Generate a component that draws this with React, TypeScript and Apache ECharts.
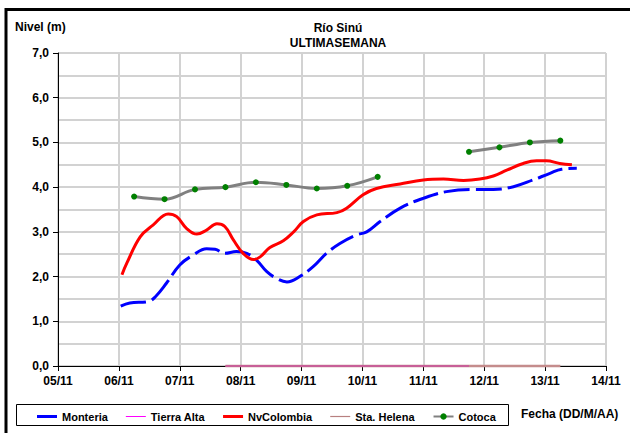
import React, { useEffect, useRef } from "react";
import * as echarts from "echarts";

// Day of November (fractional) and river level in metres
const dayTickLabels = ["05/11", "06/11", "07/11", "08/11", "09/11", "10/11", "11/11", "12/11", "13/11", "14/11"];

const monteriaDays = [6.03, 6.18, 6.48, 6.6, 6.78, 7.0, 7.22, 7.44, 7.58, 7.74, 7.93, 8.1, 8.26, 8.43, 8.59, 8.76, 8.97, 9.19, 9.41, 9.63, 9.9, 10.07, 10.29, 10.62, 11.0, 11.38, 11.82, 12.15, 12.48, 12.8, 13.08, 13.27, 13.52];
const monteriaLevels = [1.34, 1.41, 1.44, 1.55, 1.85, 2.26, 2.48, 2.62, 2.61, 2.52, 2.56, 2.52, 2.37, 2.11, 1.96, 1.88, 2.0, 2.22, 2.52, 2.74, 2.93, 3.0, 3.23, 3.53, 3.75, 3.9, 3.95, 3.95, 4.01, 4.16, 4.31, 4.4, 4.42];

const tierraAltaDays = [7.75, 8.25, 8.75, 9.25, 9.75, 10.25, 10.75, 11.25, 11.75];
const tierraAltaLevels = [0, 0, 0, 0, 0, 0, 0, 0, 0];

const nvColombiaDays = [6.05, 6.13, 6.35, 6.56, 6.81, 6.95, 7.11, 7.28, 7.44, 7.61, 7.74, 7.88, 8.04, 8.21, 8.32, 8.48, 8.7, 8.87, 9.03, 9.25, 9.58, 9.74, 10.01, 10.23, 10.62, 11.0, 11.33, 11.66, 11.93, 12.15, 12.37, 12.64, 12.86, 13.02, 13.24, 13.44];
const nvColombiaLevels = [2.04, 2.3, 2.89, 3.15, 3.4, 3.34, 3.08, 2.95, 3.04, 3.18, 3.12, 2.82, 2.52, 2.38, 2.44, 2.65, 2.8, 3.0, 3.23, 3.38, 3.43, 3.53, 3.83, 3.97, 4.07, 4.16, 4.18, 4.15, 4.18, 4.25, 4.38, 4.53, 4.59, 4.59, 4.53, 4.5];

const staHelenaDays = [7.75, 8.25, 8.75, 9.25, 9.75, 10.25, 10.75, 11.25, 11.75, 12.25, 12.75, 13.25];
const staHelenaLevels = [0, 0, 0, 0, 0, 0, 0, 0, 0, 0, 0, 0];

const cotocaDays = [6.25, 6.75, 7.25, 7.75, 8.25, 8.75, 9.25, 9.75, 10.25, 10.75, 11.25, 11.75, 12.25, 12.75, 13.25];
const cotocaLevels = [3.79, 3.73, 3.95, 4.0, 4.11, 4.05, 3.97, 4.03, 4.23, null, null, 4.79, 4.89, 5.0, 5.04];

const pairs = (xs: number[], ys: (number | null)[]) => xs.map((x, i) => [x, ys[i]]);

const FONT = "'Liberation Sans', Arial, sans-serif";

// Flat bar icons for the legend, drawn as a short stroke of given thickness
const barIcon = (h: number) => `path://M0,0 H20 V${h} H0 Z`;

export default function App() {
  const ref = useRef<HTMLDivElement>(null);

  useEffect(() => {
    if (!ref.current) return;
    const chart = echarts.init(ref.current, undefined, { renderer: "svg" });
    chart.setOption({
      animation: false,
      backgroundColor: "#ffffff",
      textStyle: { fontFamily: FONT },
      title: {
        text: "Río Sinú\nULTIMASEMANA",
        left: 333,
        top: 15,
        textAlign: "center",
        textStyle: { fontFamily: FONT, fontSize: 12, fontWeight: "bold", color: "#000", lineHeight: 15 },
      },
      grid: { left: 58, right: 24, top: 53, bottom: 67, show: true, borderColor: "#a0a0a0", borderWidth: 1 },
      legend: {
        left: 37,
        top: 411,
        padding: 0,
        itemWidth: 20,
        itemHeight: 8,
        itemGap: 18,
        textStyle: { fontFamily: FONT, fontSize: 11, fontWeight: "bold", color: "#000" },
        data: [
          { name: "Monteria", icon: barIcon(3) },
          { name: "Tierra Alta", icon: barIcon(1) },
          { name: "NvColombia", icon: barIcon(3) },
          { name: "Sta. Helena", icon: barIcon(1.2) },
          { name: "Cotoca" },
        ],
      },
      xAxis: {
        type: "value",
        min: 5,
        max: 14,
        interval: 1,
        axisLine: { show: true, lineStyle: { color: "#000", width: 1 } },
        axisTick: { show: true, length: 5, lineStyle: { color: "#000" } },
        axisLabel: {
          margin: 9,
          fontFamily: FONT,
          fontSize: 12,
          fontWeight: "bold",
          color: "#000",
          formatter: (v: number) => dayTickLabels[Math.round(v) - 5] ?? "",
        },
        splitLine: { show: true, lineStyle: { color: "#d2d2d2", width: 2 } },
      },
      yAxis: {
        type: "value",
        min: 0,
        max: 7,
        interval: 1,
        axisLine: { show: true, lineStyle: { color: "#000", width: 1 } },
        axisTick: { show: true, length: 5, lineStyle: { color: "#000" } },
        minorTick: { show: false, splitNumber: 2 },
        minorSplitLine: { show: true, lineStyle: { color: "#d2d2d2", width: 2 } },
        axisLabel: {
          margin: 9,
          fontFamily: FONT,
          fontSize: 12,
          fontWeight: "bold",
          color: "#000",
          formatter: (v: number) => v.toFixed(1).replace(".", ","),
        },
        splitLine: { show: true, lineStyle: { color: "#d2d2d2", width: 2 } },
      },
      series: [
        {
          name: "Monteria",
          type: "line",
          data: pairs(monteriaDays, monteriaLevels),
          smooth: 0.4,
          symbol: "none",
          itemStyle: { color: "#0000ff" },
          lineStyle: { color: "#0000ff", width: 3, type: [26, 6] },
          z: 4,
        },
        {
          name: "Tierra Alta",
          type: "line",
          data: pairs(tierraAltaDays, tierraAltaLevels),
          symbol: "none",
          clip: false,
          itemStyle: { color: "#ff00ff" },
          lineStyle: { color: "#c8509c", width: 1.5 },
          z: 4,
        },
        {
          name: "NvColombia",
          type: "line",
          data: pairs(nvColombiaDays, nvColombiaLevels),
          smooth: 0.4,
          symbol: "none",
          itemStyle: { color: "#ff0000" },
          lineStyle: { color: "#ff0000", width: 3 },
          z: 4,
        },
        {
          name: "Sta. Helena",
          type: "line",
          data: pairs(staHelenaDays, staHelenaLevels),
          symbol: "none",
          clip: false,
          itemStyle: { color: "#b88080" },
          lineStyle: { color: "#c48c8c", width: 2.5 },
          z: 3,
        },
        {
          name: "Cotoca",
          type: "line",
          data: pairs(cotocaDays, cotocaLevels),
          smooth: 0.4,
          connectNulls: false,
          symbol: "circle",
          symbolSize: 6,
          itemStyle: { color: "#008000" },
          lineStyle: { color: "#808080", width: 3 },
          z: 4,
        },
      ],
      graphic: [
        {
          type: "rect",
          shape: { x: 6, y: 9.5, width: 700, height: 500 },
          style: { fill: "none", stroke: "#000", lineWidth: 3 },
          silent: true,
        },
        {
          type: "rect",
          shape: { x: 16.5, y: 404.5, width: 492, height: 21 },
          style: { fill: "none", stroke: "#000", lineWidth: 1 },
          silent: true,
        },
        {
          type: "text",
          x: 15,
          y: 21,
          style: { text: "Nivel (m)", font: `bold 12px ${FONT}`, fill: "#000" },
        },
        {
          type: "text",
          x: 521,
          y: 408,
          style: { text: "Fecha (DD/M/AA)", font: `bold 12px ${FONT}`, fill: "#000" },
        },
      ],
    });
    return () => chart.dispose();
  }, []);

  return <div ref={ref} style={{ position: "fixed", left: 0, top: 0, width: 630, height: 433 }} />;
}
